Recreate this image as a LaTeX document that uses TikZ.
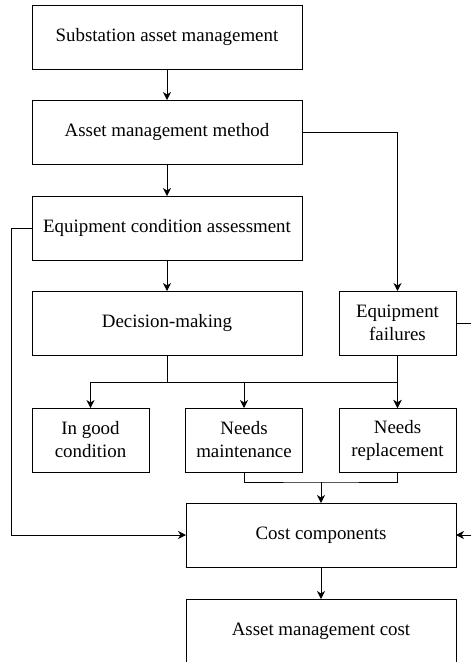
\documentclass[tikz,border=0pt]{standalone}
\usepackage{fontspec}
\setmainfont{Liberation Serif}
\usetikzlibrary{arrows.meta}
\begin{document}
\begin{tikzpicture}[x=1pt,y=-1pt,
  every node/.style={inner sep=0pt,outer sep=0pt},
  box/.style={draw,line width=1pt,minimum height=64pt,align=center,
    font=\fontsize{18.9}{23}\selectfont},
  widebox/.style={box,minimum width=270pt},
  smallbox/.style={box,minimum width=117pt},
  link/.style={line width=1pt},
  arr/.style={link,-{Stealth[length=8pt,width=8pt,inset=2.5pt]}}]
\useasboundingbox (0,0) rectangle (471,662);
\clip (0,0) rectangle (471,662);
% boxes
\node[widebox] (sam)  at (167,37)    {Substation asset management};
\node[widebox] (amm)  at (167,132)   {Asset management method};
\node[widebox] (eca)  at (167,228)   {Equipment condition assessment};
\node[widebox] (dec)  at (167,323)   {Decision-making};
\node[smallbox] (ef)  at (397.5,323) {Equipment\\failures};
\node[smallbox] (good) at (90.5,440) {In good\\condition};
\node[smallbox] (mnt) at (244,440)   {Needs\\maintenance};
\node[smallbox] (rep) at (397.5,440) {Needs\\replacement};
\node[widebox] (cost) at (321,535)   {Cost components};
\node[widebox] (amc)  at (321,631)   {Asset management cost};
% junction points
\coordinate (split) at (167,382);
\coordinate (merge) at (321,482);
\coordinate (lft) at (11,228);
\coordinate (rgt) at (480,323);
% main chain
\draw[arr] (sam) -- (amm);
\draw[arr] (amm) -- (eca);
\draw[arr] (eca) -- (dec);
\draw[arr] (amm.east) -| (ef.north);
% decision branches
\draw[link] (dec.south) -- (split);
\draw[arr] (split) -| (good.north);
\draw[arr] (split) -| (mnt.north);
\draw[arr] (split) -| (rep.north);
\draw[arr] (ef.south) -- (rep.north);
% merge into cost components
\draw[link] (mnt.south) |- (merge) -| (rep.south);
\draw[arr] (merge) -- (cost.north);
\draw[arr] (eca.west) -- (lft) |- (cost.west);
\draw[arr] (ef.east) -- (rgt) |- (cost.east);
\draw[arr] (cost) -- (amc);
\end{tikzpicture}
\end{document}
